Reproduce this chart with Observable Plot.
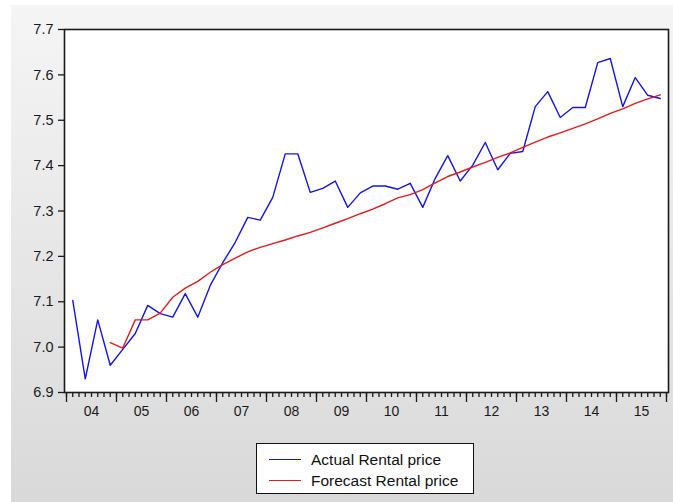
<!DOCTYPE html>
<html>
<head>
<meta charset="utf-8">
<script src="https://cdn.jsdelivr.net/npm/d3@7"></script>
<script src="https://cdn.jsdelivr.net/npm/@observablehq/plot@0.6"></script>
<style>
  body { margin: 0; background: #fff; }
  #page { position: relative; width: 673px; height: 502px; overflow: hidden;
          font-family: "Liberation Sans", Arial, sans-serif; }
  #bg { position: absolute; left: 11px; top: 5px; right: 0; bottom: 0;
        background: linear-gradient(#f5f5f5, #d9d9d9); }
  #chart { position: absolute; left: 0; top: 0; }
  #chart svg { background: transparent; }
  #legend { position: absolute; left: 256px; top: 443px; width: 216px; height: 49px;
            background: #fff; border: 1px solid #111; }
  .item { position: absolute; left: 0; height: 20px; width: 216px; }
  .swatch { position: absolute; left: 12px; top: 9px; width: 32px; height: 0;
            border-top: 1.4px solid; }
  .label { position: absolute; left: 54px; top: 0; font-size: 15.5px; line-height: 20px; color: #111; }
</style>
</head>
<body>
<div id="page">
  <div id="bg"></div>
  <div id="chart"></div>
  <div id="legend"></div>
</div>
<script>
// Quarterly series, 2004Q1 – 2015Q4
const startYear = 2004;
const yearLabels = ["04","05","06","07","08","09","10","11","12","13","14","15"];
const yTicks = [6.9, 7.0, 7.1, 7.2, 7.3, 7.4, 7.5, 7.6, 7.7];

const seriesNames = ["Actual Rental price", "Forecast Rental price"];
const seriesColors = ["#1414e6", "#e31a1a"];

// Actual (log) rental price, one value per quarter from 2004Q1
const actual = [
  7.103, 6.930, 7.060, 6.960, 6.995, 7.030, 7.092, 7.074, 7.066, 7.118, 7.066, 7.136,
  7.186, 7.231, 7.286, 7.280, 7.330, 7.426, 7.426, 7.341, 7.350, 7.366, 7.308, 7.340,
  7.355, 7.355, 7.348, 7.361, 7.308, 7.372, 7.422, 7.366, 7.401, 7.451, 7.391, 7.427,
  7.431, 7.530, 7.563, 7.506, 7.528, 7.528, 7.627, 7.636, 7.530, 7.594, 7.555, 7.548
];

// Forecast begins in 2004Q4 (quarter index 3)
const forecastStart = 3;
const forecast = [
  7.010, 6.998, 7.060, 7.060, 7.075, 7.110, 7.130, 7.145, 7.165, 7.182, 7.196,
  7.210, 7.220, 7.228, 7.236, 7.245, 7.253, 7.263, 7.273, 7.283, 7.294, 7.304,
  7.316, 7.329, 7.336, 7.347, 7.362, 7.376, 7.386, 7.397, 7.407, 7.418, 7.428,
  7.440, 7.452, 7.463, 7.472, 7.482, 7.492, 7.503, 7.515, 7.525, 7.537, 7.547, 7.556
];

// observations sit in the middle of their quarter
const quarterTime = q => startYear + (q + 0.5) / 4;

const rows = [
  ...actual.map((v, i) => ({t: quarterTime(i), v, s: seriesNames[0]})),
  ...forecast.map((v, i) => ({t: quarterTime(i + forecastStart), v, s: seriesNames[1]}))
];

const years = yearLabels.map((_, i) => startYear + i);
const yearEdges = [...years, startYear + yearLabels.length];
const yearCenters = years.map(y => y + 0.5);
const minorTicks = d3.range(0, yearLabels.length * 8 + 1).map(k => startYear + k / 8);

const chart = Plot.plot({
  width: 673,
  height: 430,
  marginLeft: 64,
  marginRight: 5,
  marginTop: 29,
  marginBottom: 38,
  style: {background: "transparent", fontFamily: "'Liberation Sans', Arial, sans-serif", fontSize: "14px", color: "#1a1a1a"},
  x: {domain: [startYear - 0.04, startYear + yearLabels.length + 0.04]},
  y: {domain: [yTicks[0], yTicks[yTicks.length - 1]]},
  color: {domain: seriesNames, range: seriesColors},
  marks: [
    Plot.frame({fill: "white", stroke: null}),
    Plot.line(rows, {x: "t", y: "v", z: "s", stroke: "s", strokeWidth: 1.4}),
    Plot.axisY({ticks: yTicks, tickSize: 6, tickPadding: 5, tickFormat: d => d.toFixed(1),
                label: null, fontSize: 14.5, strokeWidth: 1.3, style: {letterSpacing: "1.5px"}}),
    Plot.axisX({ticks: minorTicks, tickSize: 5, tickFormat: () => "", label: null, strokeWidth: 1.3}),
    Plot.axisX({ticks: yearEdges, tickSize: 10, tickFormat: () => "", label: null, strokeWidth: 1.3}),
    Plot.axisX({ticks: yearCenters, tickSize: 0, tickPadding: 14,
                tickFormat: d => yearLabels[Math.floor(d) - startYear], label: null}),
    Plot.frame({stroke: "#1a1a1a", strokeWidth: 1.6})
  ]
});
document.getElementById("chart").appendChild(chart);

// legend box below the plot
const legend = d3.select("#legend");
seriesNames.forEach((name, i) => {
  const item = legend.append("div").attr("class", "item").style("top", (6 + i * 21) + "px");
  item.append("div").attr("class", "swatch").style("border-top-color", seriesColors[i]);
  item.append("div").attr("class", "label").text(name);
});
</script>
</body>
</html>
